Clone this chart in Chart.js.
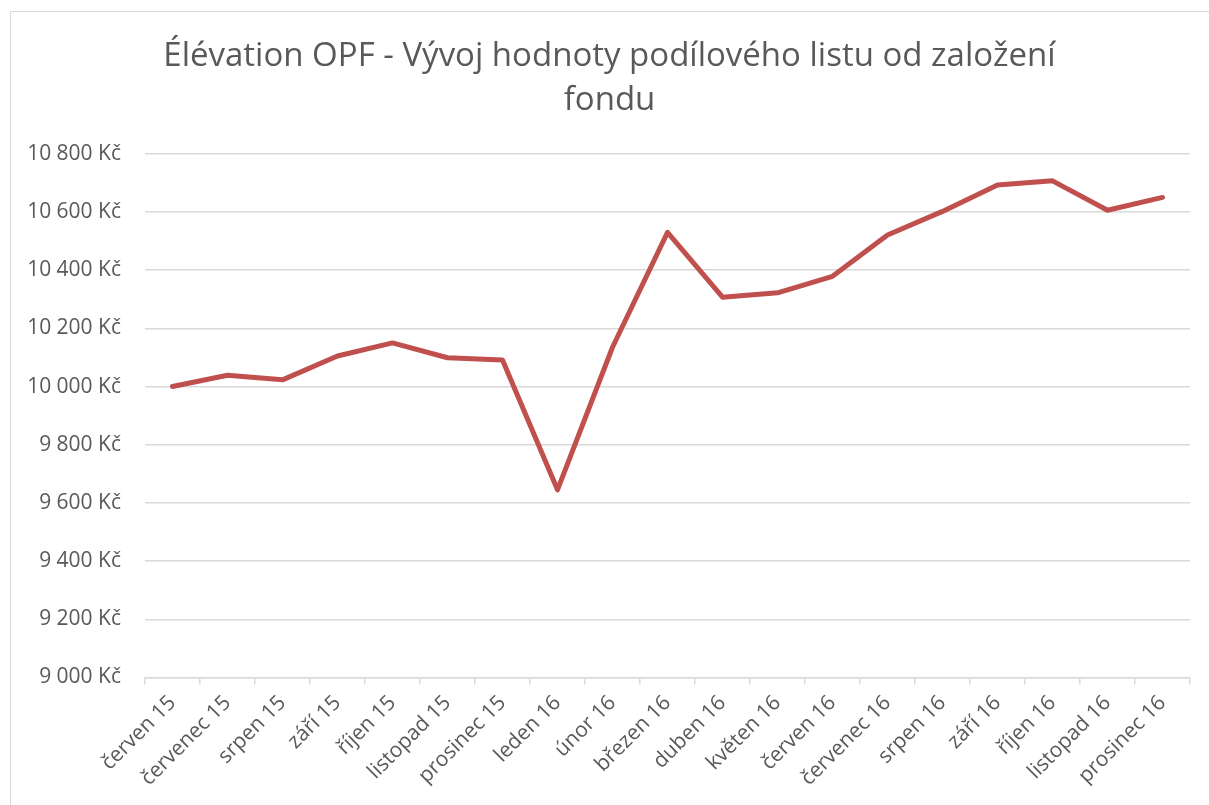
<!DOCTYPE html>
<html>
<head>
<meta charset="utf-8">
<script src="https://cdn.jsdelivr.net/npm/chart.js@4"></script>
<style>
    html, body { margin: 0; padding: 0; background: #fff; overflow: hidden; }
    #frame {
        position: absolute; left: 10px; top: 11px;
        width: 1199px; height: 794px;
        border-left: 1.5px solid #d9d9d9; border-top: 1.5px solid #d9d9d9;
    }
</style>
</head>
<body>
<div id="frame"><canvas id="myChart"></canvas></div>
<script>
var months = [
    "červen 15", "červenec 15", "srpen 15", "září 15", "říjen 15", "listopad 15",
    "prosinec 15", "leden 16", "únor 16", "březen 16", "duben 16", "květen 16",
    "červen 16", "červenec 16", "srpen 16", "září 16", "říjen 16", "listopad 16",
    "prosinec 16"
];
var navValues = [
    10000, 10039, 10023, 10105, 10150, 10099, 10091, 9645, 10135, 10530,
    10307, 10322, 10379, 10521, 10602, 10693, 10707, 10606, 10650
];
var titleLines = ["Élévation OPF - Vývoj hodnoty podílového listu od založení", "fondu"];
var yMin = 9000;
var yMax = 10800;
var yStep = 200;

Chart.defaults.font.family = "'Open Sans', sans-serif";
Chart.defaults.color = "#595959";

function formatKc(v) {
    return String(v).replace(/\B(?=(\d{3})+(?!\d))/g, " ") + " Kč";
}

var data = {
    labels: months,
    datasets: [
        {
            label: "Hodnota PL",
            data: navValues,
            borderColor: "#c0504d",
            backgroundColor: "#c0504d",
            borderWidth: 5,
            borderCapStyle: "round",
            borderJoinStyle: "round",
            pointRadius: 0,
            tension: 0,
        },
    ],
};

var config = {
    type: "line",
    data: data,
    options: {
        responsive: true,
        maintainAspectRatio: false,
        animation: false,
        layout: { padding: { left: 18, right: 20, top: 0, bottom: 9 } },
        plugins: {
            legend: { display: false },
            tooltip: { enabled: false },
            title: {
                display: true,
                text: titleLines,
                color: "#595959",
                font: { size: 33, weight: "normal", lineHeight: 1.33 },
                padding: { top: 23, bottom: 31 },
            },
        },
        scales: {
            x: {
                offset: true,
                afterFit: function (scale) {
                    // keep the rotated first label from pushing the plot right
                    scale.paddingLeft = 0;
                    scale.paddingRight = 0;
                },
                grid: {
                    offset: true,
                    drawOnChartArea: false,
                    drawTicks: true,
                    tickLength: 7,
                    color: "#d9d9d9",
                    lineWidth: 1.5,
                },
                border: { display: true, color: "#d9d9d9", width: 1.5 },
                ticks: {
                    autoSkip: false,
                    maxRotation: 45,
                    minRotation: 45,
                    padding: 6,
                    font: { size: 21 },
                },
            },
            y: {
                min: yMin,
                max: yMax,
                afterFit: function (scale) {
                    scale.width = 116;
                },
                grid: { color: "#d9d9d9", lineWidth: 1.5, drawTicks: false },
                border: { display: false },
                ticks: {
                    stepSize: yStep,
                    padding: 24,
                    font: { size: 21 },
                    callback: function (v) { return formatKc(v); },
                },
            },
        },
    },
};
myChart = new Chart(document.getElementById("myChart"), config);
</script>
</body>
</html>
